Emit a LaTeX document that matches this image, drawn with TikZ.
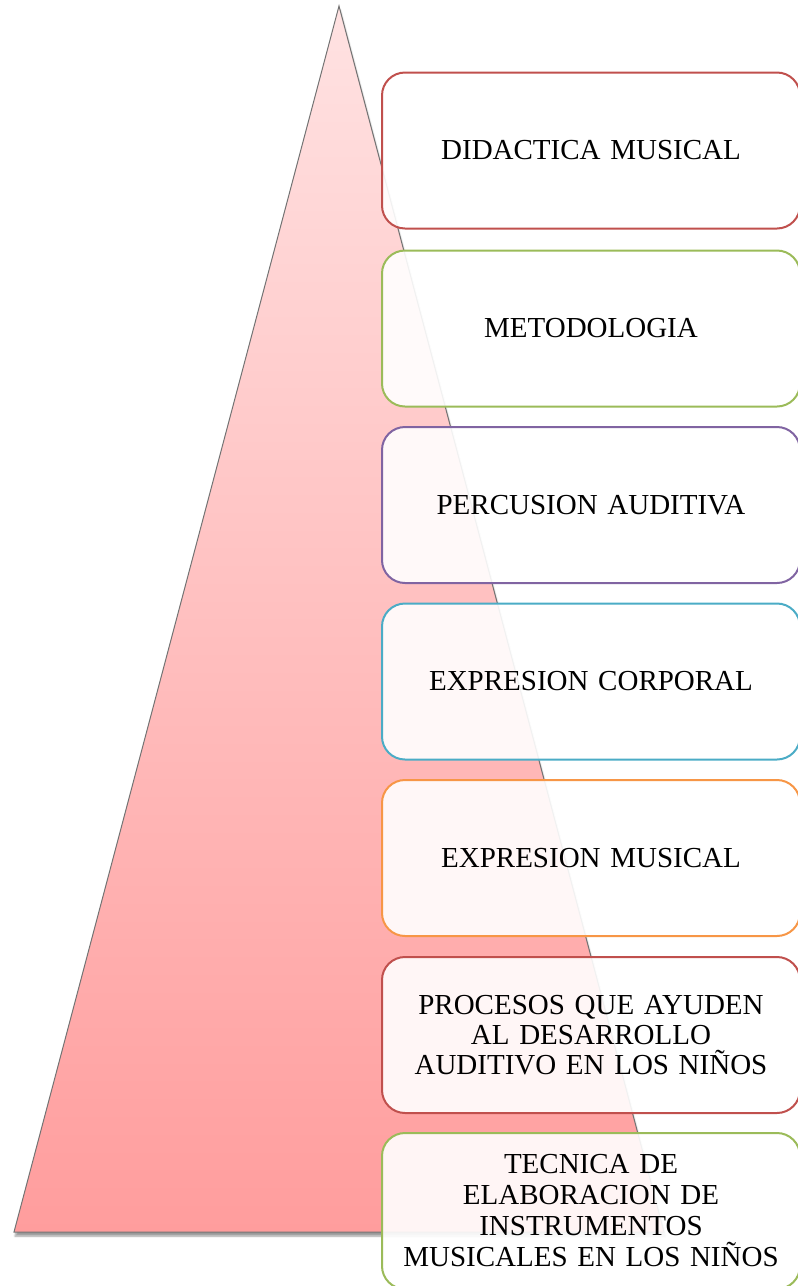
\documentclass[tikz,border=0pt]{standalone}
\usepackage{fontspec}
\setmainfont{Liberation Serif}
\usepackage{tikz}
\usetikzlibrary{shadows.blur}
\usepackage{xcolor}
\definecolor{tritop}{RGB}{255,226,226}
\definecolor{tribot}{RGB}{255,157,157}
\definecolor{boxred}{RGB}{192,80,77}
\definecolor{boxgreen}{RGB}{155,187,89}
\definecolor{boxpurple}{RGB}{128,100,162}
\definecolor{boxcyan}{RGB}{75,172,198}
\definecolor{boxorange}{RGB}{247,150,70}

\tikzset{
  levelbox/.style={draw, line width=2pt, rounded corners=23pt, fill=white, fill opacity=0.9, text opacity=1,
    minimum width=418pt, minimum height=156pt, inner sep=0pt, align=center, text width=380pt,
    font=\fontsize{29}{30}\selectfont}
}

\begin{document}
\begin{tikzpicture}[x=1pt,y=1pt,yscale=-1,xscale=1]
\useasboundingbox (0,0) rectangle (798,1286);

%Shape: Triangle
\shade [top color=tritop, bottom color=tribot, draw=gray!90!black, line width=1pt,
  blur shadow={shadow xshift=1pt, shadow yshift=-4pt, shadow blur steps=6, shadow opacity=40}]
  (339,6) -- (664,1232) -- (14,1232) -- cycle ;

%Shape: Rounded Rect
\node [levelbox, draw=boxred] (didactica) at (591,150.5) {DIDACTICA MUSICAL};
%Shape: Rounded Rect
\node [levelbox, draw=boxgreen] (metodologia) at (591,328.5) {METODOLOGIA};
%Shape: Rounded Rect
\node [levelbox, draw=boxpurple] (percusion) at (591,505) {PERCUSION AUDITIVA};
%Shape: Rounded Rect
\node [levelbox, draw=boxcyan] (corporal) at (591,681.5) {EXPRESION CORPORAL};
%Shape: Rounded Rect
\node [levelbox, draw=boxorange] (musical) at (591,858) {EXPRESION MUSICAL};
%Shape: Rounded Rect
\node [levelbox, draw=boxred] (procesos) at (591,1035) {PROCESOS QUE AYUDEN\\AL DESARROLLO\\AUDITIVO EN LOS NIÑOS};
%Shape: Rounded Rect
\node [levelbox, draw=boxgreen, font=\fontsize{29}{31}\selectfont] (tecnica) at (591,1211) {TECNICA DE\\ELABORACION DE\\INSTRUMENTOS\\MUSICALES EN LOS NIÑOS};

\end{tikzpicture}
\end{document}
